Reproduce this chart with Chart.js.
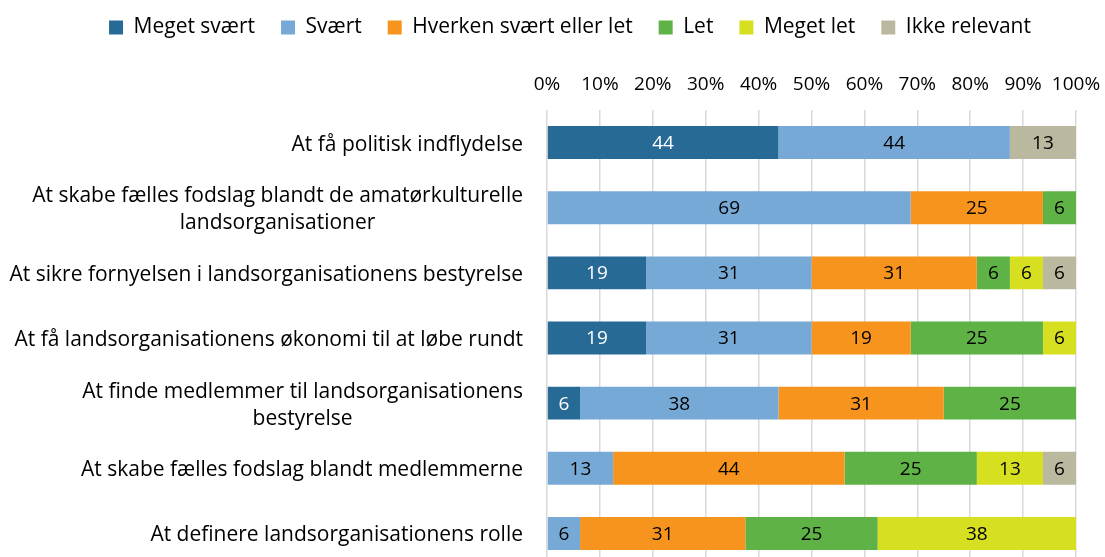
<!DOCTYPE html>
<html>
<head>
<meta charset="utf-8">
<script src="https://cdn.jsdelivr.net/npm/chart.js@4.4.1/dist/chart.umd.min.js"></script>
<style>
    html, body { margin: 0; padding: 0; background: #fff; overflow: hidden; }
    #wrap { width: 1105px; height: 566px; }
</style>
</head>
<body>
<div id="wrap"><canvas id="myChart"></canvas></div>
<script>
// kategorier
const categories = [
    'At få politisk indflydelse',
    ['At skabe fælles fodslag blandt de amatørkulturelle', 'landsorganisationer'],
    'At sikre fornyelsen i landsorganisationens bestyrelse',
    'At få landsorganisationens økonomi til at løbe rundt',
    ['At finde medlemmer til landsorganisationens', 'bestyrelse'],
    'At skabe fælles fodslag blandt medlemmerne',
    'At definere landsorganisationens rolle'
];

// serier (procent)
const megetSvaert  = [43.75, 0, 18.75, 18.75, 6.25, 0, 0];
const svaert       = [43.75, 68.75, 31.25, 31.25, 37.5, 12.5, 6.25];
const hverken      = [0, 25, 31.25, 18.75, 31.25, 43.75, 31.25];
const letSerie     = [0, 6.25, 6.25, 25, 25, 25, 25];
const megetLet     = [0, 0, 6.25, 6.25, 0, 12.5, 37.5];
const ikkeRelevant = [12.5, 0, 6.25, 0, 0, 6.25, 0];

const seriesNames = ['Meget svært', 'Svært', 'Hverken svært eller let', 'Let', 'Meget let', 'Ikke relevant'];
const tickValues = [0, 10, 20, 30, 40, 50, 60, 70, 80, 90, 100];

const FONT = '"Open Sans", sans-serif';
const TEXT_SIZE = 21;   // kategorier + legend
const NUM_SIZE = 19;    // tal på akse og i søjler

// tegn værdier inde i søjlerne
const barLabels = {
    id: 'barLabels',
    afterDatasetsDraw(chart) {
        const ctx = chart.ctx;
        ctx.save();
        ctx.font = NUM_SIZE + 'px ' + FONT;
        ctx.textAlign = 'center';
        ctx.textBaseline = 'middle';
        chart.data.datasets.forEach((ds, i) => {
            chart.getDatasetMeta(i).data.forEach((bar, j) => {
                const v = ds.data[j];
                if (!v) return;
                ctx.fillStyle = i === 0 ? '#ffffff' : '#000000';
                ctx.fillText(Math.round(v), (bar.x + bar.base) / 2, bar.y + 1);
            });
        });
        ctx.restore();
    }
};

// kategori-tekster: højrestillet blok, linjer centreret
const catLabels = {
    id: 'catLabels',
    afterDraw(chart) {
        const ctx = chart.ctx;
        const y = chart.scales.y;
        const right = 523;
        const lh = 27;
        ctx.save();
        ctx.font = TEXT_SIZE + 'px ' + FONT;
        ctx.fillStyle = '#000';
        ctx.textAlign = 'center';
        ctx.textBaseline = 'middle';
        categories.forEach((c, i) => {
            const lines = Array.isArray(c) ? c : [c];
            const w = Math.max(...lines.map(l => ctx.measureText(l).width));
            const cy = y.getPixelForValue(i) + 2;
            lines.forEach((l, k) => {
                ctx.fillText(l, right - w / 2, cy + (k - (lines.length - 1) / 2) * lh);
            });
        });
        ctx.restore();
    }
};

// flyt legenden lidt til højre som i originalen
const legendShift = {
    id: 'legendShift',
    afterLayout(chart) {
        if (!chart.legend) return;
        chart.legend.left += 32;
        chart.legend.right += 32;
    }
};

new Chart('myChart', {
    type: 'bar',
    data: {
        labels: categories,
        datasets: [
            { label: seriesNames[0], data: megetSvaert,  backgroundColor: '#286A96' },
            { label: seriesNames[1], data: svaert,       backgroundColor: '#77A9D6' },
            { label: seriesNames[2], data: hverken,      backgroundColor: '#F7941E' },
            { label: seriesNames[3], data: letSerie,     backgroundColor: '#5EB246' },
            { label: seriesNames[4], data: megetLet,     backgroundColor: '#D7DF21' },
            { label: seriesNames[5], data: ikkeRelevant, backgroundColor: '#BAB9A0' }
        ]
    },
    options: {
        indexAxis: 'y',
        responsive: true,
        maintainAspectRatio: false,
        animation: false,
        datasets: { bar: { barPercentage: 0.506, categoryPercentage: 1, borderWidth: 0 } },
        layout: { padding: { left: 0, right: 29, top: -9, bottom: 0 } },
        plugins: {
            tooltip: { enabled: false },
            legend: {
                position: 'top',
                labels: {
                    font: { family: FONT, size: TEXT_SIZE },
                    color: '#000',
                    boxWidth: 14,
                    boxHeight: 14,
                    padding: 26
                }
            }
        },
        scales: {
            x: {
                position: 'top',
                stacked: true,
                min: 0,
                max: 100,
                afterBuildTicks(scale) {
                    scale.ticks = tickValues.map(v => ({ value: v }));
                },
                afterFit(scale) {
                    scale.height = 62;
                    scale.paddingLeft = 0;
                    scale.paddingRight = 0;
                },
                grid: { color: '#D9D9D9', lineWidth: 1.5, drawTicks: false },
                border: { display: false },
                ticks: {
                    font: { family: FONT, size: NUM_SIZE },
                    color: '#000',
                    padding: 14,
                    maxRotation: 0,
                    callback: v => v + '%'
                }
            },
            y: {
                stacked: true,
                afterFit(scale) { scale.width = 547; },
                grid: { display: false },
                border: { display: false },
                ticks: { display: false }
            }
        }
    },
    plugins: [barLabels, catLabels, legendShift]
});
</script>
</body>
</html>
